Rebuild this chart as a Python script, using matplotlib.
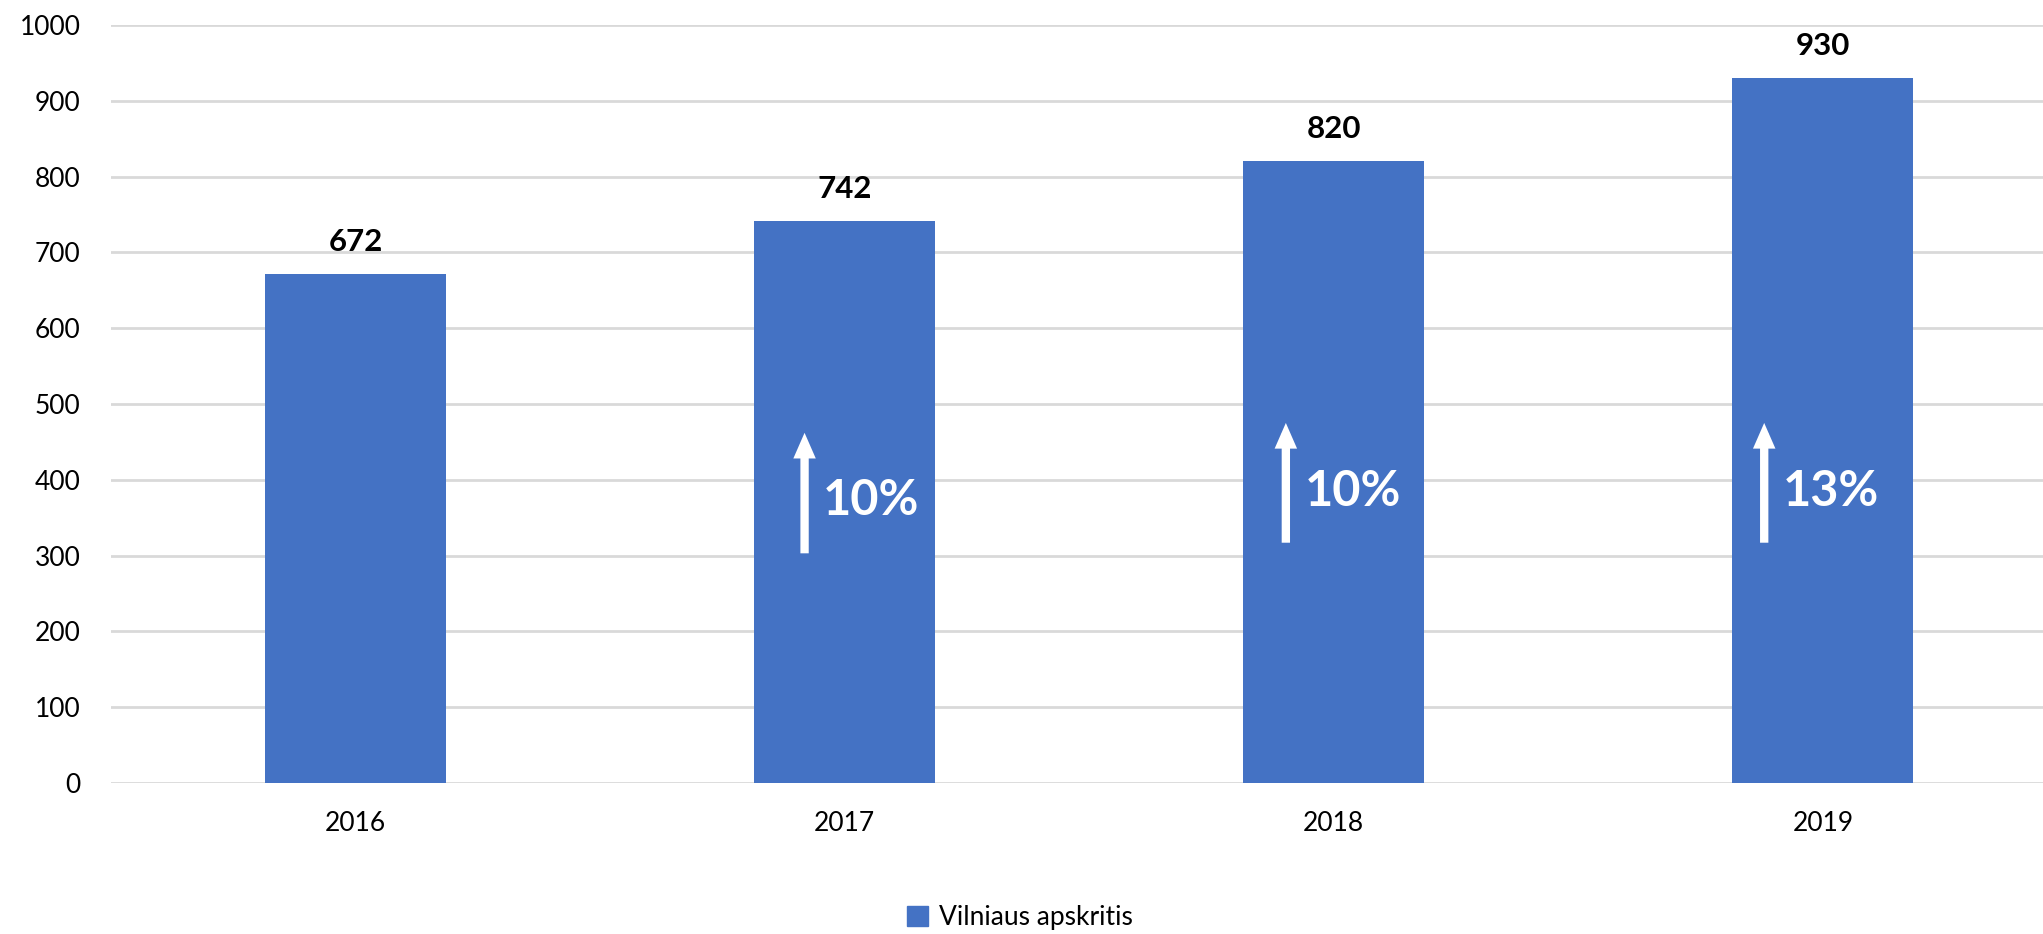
import matplotlib
matplotlib.use('Agg')
import matplotlib.pyplot as plt
from matplotlib.patches import Patch

years = ['2016', '2017', '2018', '2019']
values = [672, 742, 820, 930]
growth = ['', '10%', '10%', '13%']
series_name = 'Vilniaus apskritis'

bar_color = '#4472C4'
grid_color = '#D9D9D9'

plt.rcParams['font.family'] = ['Lato', 'DejaVu Sans']

fig = plt.figure(figsize=(20.43, 9.34), dpi=100)
ax = fig.add_axes([111 / 2043, 1 - 783 / 934, 1 - 111 / 2043, (783 - 25) / 934])

x = list(range(len(years)))
ax.bar(x, values, width=0.37, color=bar_color, zorder=2)

ax.set_ylim(0, 1000)
ax.set_xlim(-0.5, 3.45)
ax.set_yticks(range(0, 1001, 100))
ax.set_xticks(x)
ax.set_xticklabels(years)
ax.grid(axis='y', color=grid_color, linewidth=2, zorder=0)
for s in ax.spines.values():
    s.set_visible(False)
ax.tick_params(axis='both', length=0, labelsize=19, colors='#000000')
ax.tick_params(axis='y', pad=22)
ax.tick_params(axis='x', pad=20)

# value labels above bars
for i, v in zip(x, values):
    ax.annotate(str(v), (i, v), xytext=(0, 23), textcoords='offset points',
                ha='center', va='center', fontsize=22.5, fontweight='bold')

# growth arrows inside bars
arrow_dx = [0, -0.082, -0.098, -0.12]
text_dx = [0, -0.045, -0.06, -0.082]
arrow_low = [0, 303, 317, 317]
arrow_high = [0, 462, 475, 475]
text_y = [0, 373, 384, 384]
for i, g in zip(x, growth):
    if not g:
        continue
    ax.annotate('', xy=(i + arrow_dx[i], arrow_high[i]), xytext=(i + arrow_dx[i], arrow_low[i]),
                arrowprops=dict(arrowstyle='-|>,head_width=0.35,head_length=0.8',
                                color='white', lw=6, shrinkA=0, shrinkB=0,
                                capstyle='butt', joinstyle='miter'), zorder=3)
    ax.text(i + text_dx[i], text_y[i], g, color='white', fontsize=35,
            fontweight='bold', ha='left', va='center', zorder=3)

fig.legend(handles=[Patch(color=bar_color, label=series_name)], loc='center',
           bbox_to_anchor=(1020 / 2043, 1 - 918 / 934), frameon=False, fontsize=19,
           handlelength=0.8, handleheight=0.8, handletextpad=0.4)

fig.savefig('out.png', dpi=100)
